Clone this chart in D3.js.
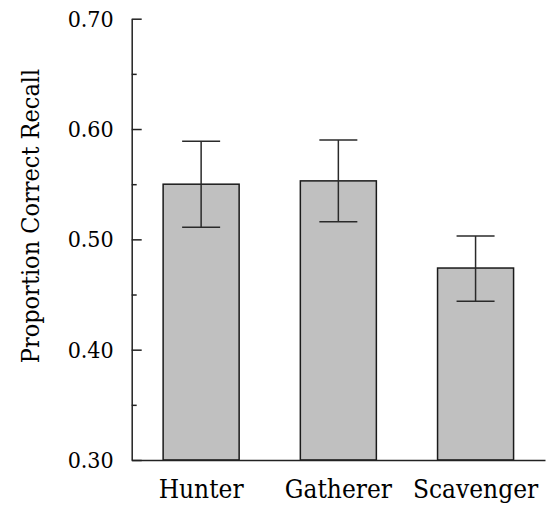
<!DOCTYPE html>
<html>
<head>
<meta charset="utf-8">
<script src="https://cdn.jsdelivr.net/npm/d3@7"></script>
<style>
  body { margin: 0; background: #fff; }
  svg text { font-family: "DejaVu Serif Condensed", "DejaVu Serif", serif; font-stretch: condensed; }
</style>
</head>
<body>
<svg id="bar_chart" width="548" height="512"></svg>
<script>
// values
const categories = ['Hunter', 'Gatherer', 'Scavenger']
const means = [0.550, 0.553, 0.474]
const errUpper = [0.589, 0.590, 0.503]
const errLower = [0.511, 0.516, 0.444]
const majorTicks = [0.30, 0.40, 0.50, 0.60, 0.70]
const minorTicks = [0.35, 0.45, 0.55, 0.65]

const svg = d3.select('#bar_chart')
const data = categories.map((c, i) => ({ cat: c, mean: means[i], hi: errUpper[i], lo: errLower[i] }))

const x = d3.scaleBand()
  .domain(categories)
  .range([131.7, 545])
  .paddingInner(0.446)
  .paddingOuter(0.229)

const y = d3.scaleLinear()
  .domain([0.30, 0.70])
  .range([460, 18.7])

// bars
svg.append('g')
  .selectAll('rect')
  .data(data)
  .join('rect')
  .attr('x', d => x(d.cat))
  .attr('y', d => y(d.mean))
  .attr('width', x.bandwidth())
  .attr('height', d => y(0.30) - y(d.mean))
  .attr('fill', '#c0c0c0')
  .attr('stroke', '#1a1a1a')
  .attr('stroke-width', 1.5)

// error bars
const capHalf = 19
const err = svg.append('g').attr('stroke', '#2a2a2a').attr('stroke-width', 1.5)
err.selectAll('.stem')
  .data(data)
  .join('line')
  .attr('x1', d => x(d.cat) + x.bandwidth() / 2)
  .attr('x2', d => x(d.cat) + x.bandwidth() / 2)
  .attr('y1', d => y(d.hi))
  .attr('y2', d => y(d.lo))
err.selectAll('.capHi')
  .data(data)
  .join('line')
  .attr('x1', d => x(d.cat) + x.bandwidth() / 2 - capHalf)
  .attr('x2', d => x(d.cat) + x.bandwidth() / 2 + capHalf)
  .attr('y1', d => y(d.hi))
  .attr('y2', d => y(d.hi))
err.selectAll('.capLo')
  .data(data)
  .join('line')
  .attr('x1', d => x(d.cat) + x.bandwidth() / 2 - capHalf)
  .attr('x2', d => x(d.cat) + x.bandwidth() / 2 + capHalf)
  .attr('y1', d => y(d.lo))
  .attr('y2', d => y(d.lo))

// y axis, ticks point inward
const yAxis = svg.append('g')
  .attr('transform', 'translate(131.7,0)')
  .call(d3.axisLeft(y).tickValues(majorTicks).tickFormat(d3.format('.2f')).tickSize(-10).tickSizeOuter(0).tickPadding(18))
yAxis.attr('font-family', null)
yAxis.selectAll('line').attr('stroke', '#222').attr('stroke-width', 1.5)
yAxis.select('.domain').attr('stroke', '#222').attr('stroke-width', 1.5)
yAxis.selectAll('text').attr('font-size', 23).attr('fill', '#000')

const yMinor = svg.append('g')
  .attr('transform', 'translate(131.7,0)')
  .call(d3.axisLeft(y).tickValues(minorTicks).tickFormat('').tickSize(-5).tickSizeOuter(0))
yMinor.select('.domain').remove()
yMinor.selectAll('line').attr('stroke', '#222').attr('stroke-width', 1.5)

// x axis
const xAxis = svg.append('g')
  .attr('transform', 'translate(0,460)')
  .call(d3.axisBottom(x).tickSize(0).tickSizeOuter(0).tickPadding(20))
xAxis.attr('font-family', null)
xAxis.select('.domain').attr('stroke', '#222').attr('stroke-width', 1.5)
xAxis.selectAll('text').attr('font-size', 26).attr('fill', '#000')

// y label
svg.append('text')
  .attr('transform', 'translate(39,216) rotate(-90)')
  .attr('text-anchor', 'middle')
  .attr('font-size', 25)
  .attr('fill', '#000')
  .text('Proportion Correct Recall')
</script>
</body>
</html>
